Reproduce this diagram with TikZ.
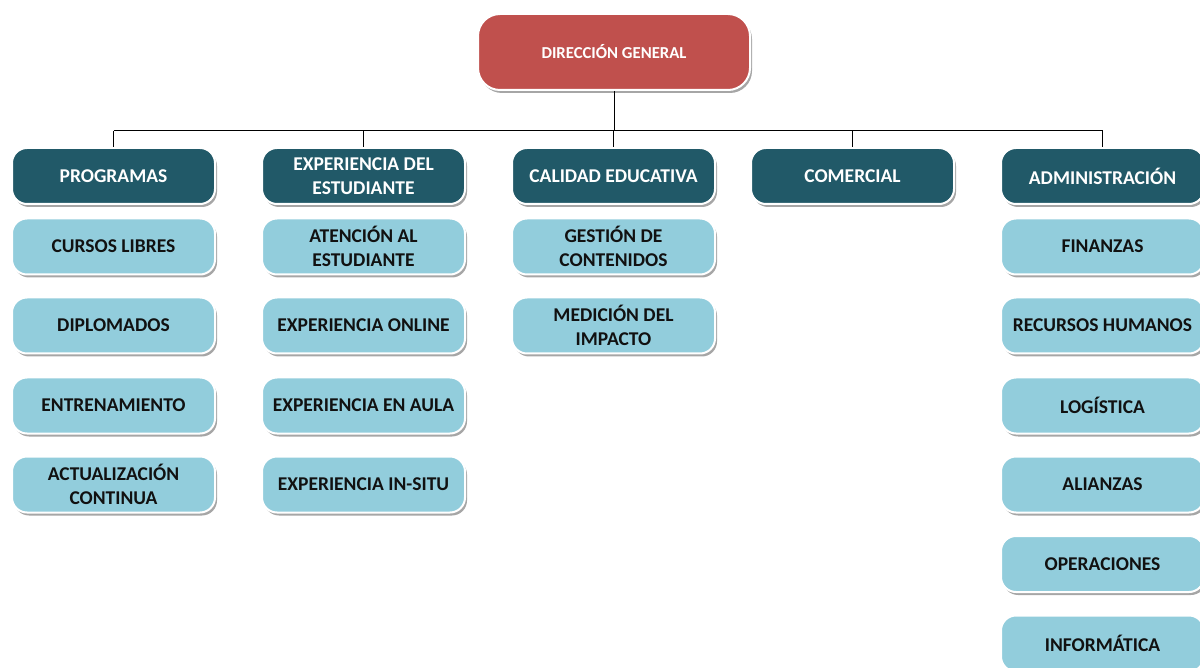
\documentclass[tikz,border=0pt]{standalone}
\usepackage{fontspec}
\setmainfont{Carlito}
\usetikzlibrary{shadows}
\definecolor{topred}{HTML}{C0504D}
\definecolor{darkteal}{HTML}{215968}
\definecolor{lightblue}{HTML}{92CDDC}
\definecolor{txtdark}{HTML}{111111}
\tikzset{
  box/.style={rounded corners=15pt, draw=white, line width=2pt, minimum width=203pt, minimum height=56pt,
    align=center, inner sep=2pt, font=\fontsize{19.5}{24}\selectfont\bfseries,
    drop shadow={shadow xshift=2pt, shadow yshift=-3pt, opacity=0.35, fill=black}},
  topbox/.style={box, fill=topred, text=white, minimum width=272pt, minimum height=76pt, rounded corners=22pt, font=\fontsize{16.7}{20}\selectfont\bfseries},
  headbox/.style={box, fill=darkteal, text=white},
  subbox/.style={box, fill=lightblue, text=txtdark},
  conn/.style={draw=black, line width=1pt}
}
\begin{document}
\begin{tikzpicture}[x=1pt,y=-1pt]
\useasboundingbox (0,0) rectangle (1200,668);
\clip (0,0) rectangle (1200,668);
\node[topbox] (dg) at (614,52) {DIRECCIÓN GENERAL};
% heads
\node[headbox] (p) at (113.5,176) {PROGRAMAS};
\node[headbox] (e) at (363.5,176) {EXPERIENCIA DEL\\ESTUDIANTE};
\node[headbox] (c) at (613.5,176) {CALIDAD EDUCATIVA};
\node[headbox] (m) at (852.5,176) {COMERCIAL};
\node[headbox] (a) at (1102.5,176) {ADMINISTRACIÓN};
% programas
\node[subbox] (p1) at (113.5,246.5) {CURSOS LIBRES};
\node[subbox] (p2) at (113.5,325.5) {DIPLOMADOS};
\node[subbox] (p3) at (113.5,405.5) {ENTRENAMIENTO};
\node[subbox] (p4) at (113.5,484.5) {ACTUALIZACIÓN\\CONTINUA};
% experiencia
\node[subbox] (e1) at (363.5,246.5) {ATENCIÓN AL\\ESTUDIANTE};
\node[subbox] (e2) at (363.5,325.5) {EXPERIENCIA ONLINE};
\node[subbox] (e3) at (363.5,405.5) {EXPERIENCIA EN AULA};
\node[subbox] (e4) at (363.5,484.5) {EXPERIENCIA IN-SITU};
% calidad
\node[subbox] (c1) at (613.5,246.5) {GESTIÓN DE\\CONTENIDOS};
\node[subbox] (c2) at (613.5,325.5) {MEDICIÓN DEL\\IMPACTO};
% administracion
\node[subbox] (a1) at (1102.5,246.5) {FINANZAS};
\node[subbox] (a2) at (1102.5,325.5) {RECURSOS HUMANOS};
\node[subbox] (a3) at (1102.5,405.5) {LOGÍSTICA};
\node[subbox] (a4) at (1102.5,484.5) {ALIANZAS};
\node[subbox] (a5) at (1102.5,564) {OPERACIONES};
\node[subbox] (a6) at (1102.5,643.5) {INFORMÁTICA};
% connectors
\coordinate (bus) at (614,131);
\draw[conn] (dg.south) -- (bus);
\foreach \n in {p,e,c,m,a}{
  \draw[conn] (\n.north) -- (\n.north |- bus);
}
\draw[conn] (p.north |- bus) -- (a.north |- bus);
\end{tikzpicture}
\end{document}
